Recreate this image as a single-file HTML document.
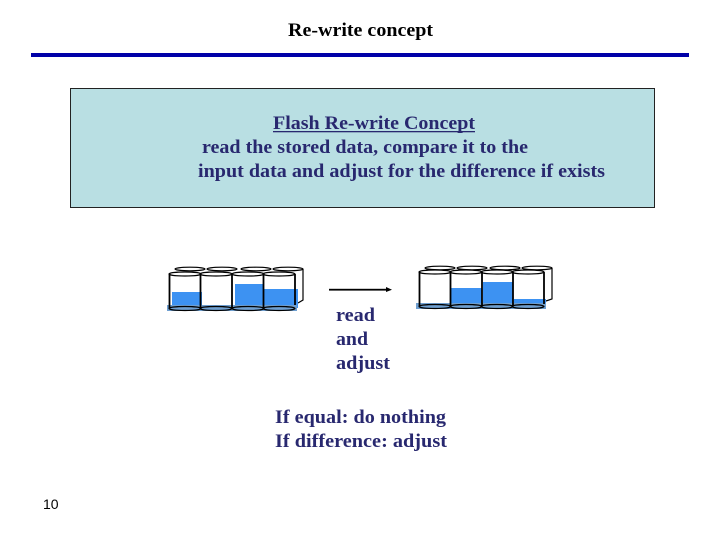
<!DOCTYPE html>
<html>
<head>
<meta charset="utf-8">
<style>
html,body{margin:0;padding:0;background:#fff;}
#p{position:relative;width:720px;height:540px;overflow:hidden;background:#fff;}
svg{position:absolute;left:0;top:0;}
text{font-family:"Liberation Serif",serif;font-weight:bold;font-size:18.500px;}
</style>
</head>
<body>
<div id="p">
<svg width="720" height="540" viewBox="0 0 720 540" xmlns="http://www.w3.org/2000/svg">
<text x="288" y="36" fill="#000" textLength="145" lengthAdjust="spacingAndGlyphs">Re-write concept</text>
<rect x="31" y="53" width="658" height="4" fill="#0000a8"/>
<rect x="70.500" y="88.500" width="584" height="119" fill="#b9dfe3" stroke="#222" stroke-width="1"/>
<g fill="#28286f">
<text x="273" y="129" textLength="202" lengthAdjust="spacingAndGlyphs">Flash Re-write Concept</text>
<rect x="273" y="131" width="202" height="1.300"/>
<text x="202" y="153" textLength="326" lengthAdjust="spacingAndGlyphs">read the stored data, compare it to the</text>
<text x="198" y="177" textLength="407" lengthAdjust="spacingAndGlyphs">input data and adjust for the difference if exists</text>
<text x="336" y="321" textLength="39" lengthAdjust="spacingAndGlyphs">read</text>
<text x="336" y="345" textLength="32" lengthAdjust="spacingAndGlyphs">and</text>
<text x="336" y="369" textLength="54" lengthAdjust="spacingAndGlyphs">adjust</text>
<text x="275" y="423" textLength="171" lengthAdjust="spacingAndGlyphs">If equal: do nothing</text>
<text x="275" y="447" textLength="172" lengthAdjust="spacingAndGlyphs">If difference: adjust</text>
</g>
<text x="43" y="509" style="font-family:'Liberation Sans',sans-serif;font-weight:normal;font-size:14px" fill="#000">10</text>

<!-- left cylinders -->
<g fill="none" stroke="#000" stroke-width="1.200">
<ellipse cx="190" cy="269" rx="15" ry="1.800"/><ellipse cx="222" cy="269" rx="15" ry="1.800"/><ellipse cx="256" cy="269" rx="15" ry="1.800"/><ellipse cx="288" cy="269" rx="15" ry="1.800"/>
<path d="M303 269V300L298 303"/>
</g>
<rect x="172" y="292" width="30" height="15" fill="#3d92f2"/>
<rect x="235" y="284" width="29" height="23" fill="#3d92f2"/>
<rect x="264" y="289" width="34" height="19" fill="#3d92f2"/>
<rect x="167" y="305" width="130" height="6" fill="#6f9fd0"/>
<g fill="none" stroke="#000">
<g stroke-width="1.200">
<ellipse cx="185" cy="274" rx="16" ry="2"/><ellipse cx="216" cy="274" rx="16" ry="2"/><ellipse cx="248" cy="274" rx="16" ry="2"/><ellipse cx="279" cy="274" rx="16" ry="2"/>
<ellipse cx="185" cy="308.500" rx="16" ry="2"/><ellipse cx="216" cy="308.500" rx="16" ry="2"/><ellipse cx="248" cy="308.500" rx="16" ry="2"/><ellipse cx="279" cy="308.500" rx="16" ry="2"/>
</g>
<path stroke-width="1.800" d="M169.500 274V308M200.500 274V308M232 274V308M263.500 274V308M295 274V305"/>
</g>

<!-- right cylinders -->
<g fill="none" stroke="#000" stroke-width="1.200">
<ellipse cx="440" cy="268" rx="15" ry="1.800"/><ellipse cx="472" cy="268" rx="15" ry="1.800"/><ellipse cx="505" cy="268" rx="15" ry="1.800"/><ellipse cx="537" cy="268" rx="15" ry="1.800"/>
<path d="M552 268V299L546 301"/>
</g>
<rect x="451" y="288" width="31" height="18" fill="#3d92f2"/>
<rect x="483" y="282" width="30" height="24" fill="#3d92f2"/>
<rect x="514" y="299" width="32" height="7" fill="#3d92f2"/>
<rect x="416" y="303" width="130" height="6" fill="#6f9fd0"/>
<g fill="none" stroke="#000">
<g stroke-width="1.200">
<ellipse cx="435" cy="272" rx="16" ry="2"/><ellipse cx="466" cy="272" rx="16" ry="2"/><ellipse cx="497" cy="272" rx="16" ry="2"/><ellipse cx="528" cy="272" rx="16" ry="2"/>
<ellipse cx="435" cy="306.500" rx="16" ry="2"/><ellipse cx="466" cy="306.500" rx="16" ry="2"/><ellipse cx="497" cy="306.500" rx="16" ry="2"/><ellipse cx="528" cy="306.500" rx="16" ry="2"/>
</g>
<path stroke-width="1.800" d="M419.500 272V306M450.500 272V306M482 272V306M513 272V306M544 272V304"/>
</g>

<!-- arrow -->
<rect x="329" y="288.800" width="60" height="1.800" fill="#000"/>
<path d="M386 287L392 289.700L386 292Z" fill="#000"/>
</svg>
</div>
</body>
</html>
